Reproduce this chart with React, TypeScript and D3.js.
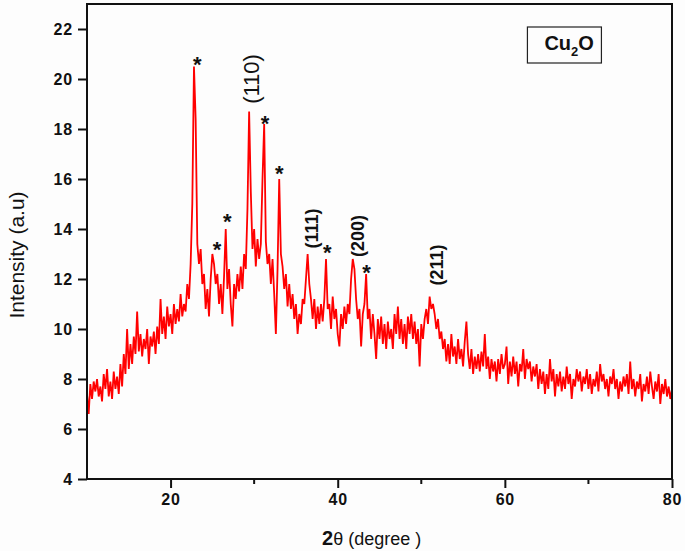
import React, { useEffect, useRef } from "react";
import * as d3 from "d3";

// XRD scan, 2θ from 10° to 80° in 0.2° steps
const THETA_START = 10;
const THETA_STEP = 0.2;
const intensity = [
  7.4, 6.6, 7.8, 7.2, 7.9,
  7.5, 8.0, 7.3, 7.7, 7.1,
  8.2, 7.6, 8.4, 7.3, 7.9,
  7.2, 8.3, 7.6, 8.1, 7.4,
  8.6, 7.7, 9.0, 8.2, 10.0,
  8.4, 9.4, 8.6, 9.7, 9.0,
  10.7, 9.1, 9.8, 8.9, 9.6,
  9.2, 10.0, 8.6, 9.7, 9.3,
  9.9, 9.0, 10.1, 9.4, 11.2,
  9.8, 10.5, 9.6, 10.9, 10.1,
  10.6, 9.8, 11.0, 10.2, 10.8,
  10.3, 11.4, 10.5, 11.0, 10.7,
  11.8, 11.2, 12.6, 15.0, 20.5,
  18.4, 13.4, 12.6, 13.2, 11.8,
  12.2, 10.8, 11.6, 10.5, 12.0,
  13.0, 12.6, 11.8, 12.2, 11.0,
  11.8, 10.6, 12.1, 14.0, 11.6,
  12.4, 11.0, 10.1, 11.8, 11.2,
  12.2, 11.5, 12.5, 11.6, 13.0,
  12.4, 14.8, 18.7, 15.5, 13.2,
  14.0, 12.5, 13.6, 12.8, 13.4,
  16.0, 18.2, 13.5, 12.6, 13.0,
  11.8, 12.8, 11.4, 9.8, 12.4,
  16.0, 13.0, 12.5, 11.6, 12.2,
  10.9, 11.8, 10.8, 11.4, 10.4,
  11.0, 9.8, 10.6, 10.2, 11.2,
  11.0, 12.0, 13.0, 11.8, 11.2,
  10.4, 11.2, 10.0, 10.9, 10.2,
  11.0, 10.3, 11.2, 12.8, 10.8,
  11.0, 10.0, 11.3, 10.4, 10.8,
  9.8, 9.3, 10.6, 10.0, 10.9,
  10.2, 11.0, 10.6, 12.0, 12.8,
  12.4, 11.2, 10.4, 10.8, 9.3,
  10.6, 11.0, 12.2, 10.4, 10.8,
  9.6, 10.6, 9.8, 8.8, 10.4,
  9.6, 10.5, 9.4, 10.2, 9.2,
  10.3, 9.6, 10.0, 9.2, 10.6,
  9.8, 10.9, 9.6, 10.4, 9.4,
  10.2, 9.2, 10.5, 9.8, 10.6,
  9.6, 10.3, 9.4, 10.0, 8.5,
  10.2, 9.6, 10.4, 10.8, 10.2,
  11.3, 10.8, 11.0, 10.6, 10.0,
  10.4, 9.6, 9.9, 9.2, 9.6,
  8.7, 9.4, 8.6, 9.8, 8.9,
  9.3, 8.6, 9.6, 8.8, 9.2,
  8.5, 9.5, 10.3, 9.0, 8.4,
  9.2, 8.2, 8.9, 8.4, 9.0,
  8.3, 9.1, 8.5, 9.8, 8.4,
  8.9, 8.0, 8.8, 8.3, 8.7,
  7.9, 8.8, 8.2, 9.0, 8.4,
  8.6, 9.3, 7.8, 8.7, 8.1,
  8.9, 8.2, 8.7, 7.7, 8.6,
  8.3, 9.2, 8.0, 8.8, 8.4,
  8.7, 7.9, 8.5, 8.1, 8.6,
  7.6, 8.4, 7.8, 8.3, 7.4,
  8.2, 7.6, 8.8, 7.9, 8.4,
  7.3, 8.2, 7.7, 8.3, 7.5,
  8.1, 7.6, 8.5, 7.8, 8.2,
  7.2, 8.0, 7.7, 8.4, 7.9,
  8.3, 7.5, 8.1, 7.8, 8.4,
  7.6, 8.2, 7.4, 8.0, 7.7,
  8.3, 7.5, 8.6, 7.9, 8.2,
  7.6, 8.0, 7.3, 8.1, 7.8,
  8.4, 7.6, 8.0, 7.2, 7.9,
  7.5, 8.1, 7.7, 8.2, 7.4,
  8.7, 7.6, 8.0, 7.3, 7.9,
  7.6, 8.2, 7.1, 7.8, 7.5,
  8.1, 7.4, 8.3, 7.7, 7.2,
  7.9, 7.5, 8.2, 7.0, 7.8,
  7.4, 8.0, 7.3, 7.7, 7.2,
  7.6,
];

const xMajorTicks = [20, 40, 60, 80];
const xMinorTicks = [30, 50, 70];
const yTicks = [4, 6, 8, 10, 12, 14, 16, 18, 20, 22];

// impurity peaks marked with "*"
const starTheta = [23.2, 25.55, 26.8, 31.3, 33.0, 38.75, 43.45];
const starLevel = [20.76, 13.36, 14.48, 18.4, 16.4, 13.24, 12.44];

// Cu2O planes
const planeLabels = ["(110)", "(111)", "(200)", "(211)"];
const planeTheta = [29.7, 36.87, 42.42, 51.91];
const planeLevel = [20.0, 14.02, 13.72, 12.56];
const planeBold = [false, true, true, true];

const FONT = "'Liberation Sans', Arial, sans-serif";

const App = () => {
  const svgRef = useRef<SVGSVGElement>(null);
  const width = 685;
  const height = 551;
  const margin = { top: 4, right: 13, bottom: 72, left: 87 };

  useEffect(() => {
    const svg = d3.select(svgRef.current);
    svg.selectAll("*").remove();

    const innerW = width - margin.left - margin.right;
    const innerH = height - margin.top - margin.bottom;
    const x = d3.scaleLinear().domain([10, 80]).range([0, innerW]);
    const y = d3.scaleLinear().domain([4, 23]).range([innerH, 0]);

    svg.append("rect").attr("width", width).attr("height", height).attr("fill", "#fdfdfd");

    const g = svg.append("g").attr("transform", `translate(${margin.left},${margin.top})`);

    const data = intensity.map((v, i) => [THETA_START + i * THETA_STEP, v] as [number, number]);
    const line = d3
      .line<[number, number]>()
      .x((d) => x(d[0]))
      .y((d) => y(d[1]));

    g.append("path")
      .datum(data)
      .attr("fill", "none")
      .attr("stroke", "#ff0000")
      .attr("stroke-width", 1.8)
      .attr("stroke-linejoin", "miter")
      .attr("d", line);

    // frame
    g.append("rect")
      .attr("width", innerW)
      .attr("height", innerH)
      .attr("fill", "none")
      .attr("stroke", "#111")
      .attr("stroke-width", 2);

    // x axis
    const xAxis = g
      .append("g")
      .attr("transform", `translate(0,${innerH})`)
      .call(d3.axisBottom(x).tickValues(xMajorTicks).tickSize(9).tickSizeOuter(0).tickPadding(6));
    xAxis.select(".domain").remove();
    xAxis.selectAll("line").attr("stroke", "#111").attr("stroke-width", 2);
    xAxis
      .selectAll("text")
      .attr("fill", "#111")
      .style("font-family", FONT)
      .style("font-size", "16px")
      .style("letter-spacing", "0.8px")
      .style("font-weight", "bold");
    g.append("g")
      .attr("transform", `translate(0,${innerH})`)
      .selectAll("line")
      .data(xMinorTicks)
      .join("line")
      .attr("x1", (d) => x(d))
      .attr("x2", (d) => x(d))
      .attr("y1", 0)
      .attr("y2", 5)
      .attr("stroke", "#111")
      .attr("stroke-width", 2);

    // y axis
    const yAxis = g
      .append("g")
      .call(d3.axisLeft(y).tickValues(yTicks).tickSize(9).tickSizeOuter(0).tickPadding(5));
    yAxis.select(".domain").remove();
    yAxis.selectAll("line").attr("stroke", "#111").attr("stroke-width", 2);
    yAxis
      .selectAll("text")
      .attr("fill", "#111")
      .style("font-family", FONT)
      .style("font-size", "16px")
      .style("letter-spacing", "0.8px")
      .style("font-weight", "bold");

    // peak markers
    g.selectAll("text.star")
      .data(starTheta)
      .join("text")
      .attr("class", "star")
      .attr("x", (d) => x(d))
      .attr("y", (d, i) => y(starLevel[i]) + 12)
      .attr("text-anchor", "middle")
      .style("font-family", FONT)
      .style("font-size", "22px")
      .style("font-weight", "bold")
      .attr("fill", "#111")
      .text("*");

    g.selectAll("text.plane")
      .data(planeLabels)
      .join("text")
      .attr("class", "plane")
      .attr(
        "transform",
        (d, i) => `translate(${x(planeTheta[i])},${y(planeLevel[i])}) rotate(-90)`
      )
      .attr("text-anchor", "middle")
      .attr("dominant-baseline", "central")
      .style("font-family", FONT)
      .style("font-size", (d, i) => (planeBold[i] ? "18px" : "22px"))
      .style("font-weight", (d, i) => (planeBold[i] ? "bold" : "normal"))
      .attr("fill", "#111")
      .text((d) => d);

    // sample box
    const box = g.append("g").attr("transform", `translate(${x(62.7)},${y(22.08)})`);
    box
      .append("rect")
      .attr("width", 74)
      .attr("height", 36)
      .attr("fill", "none")
      .attr("stroke", "#222")
      .attr("stroke-width", 1.2);
    const label = box
      .append("text")
      .attr("x", 17)
      .attr("y", 23)
      .style("font-family", FONT)
      .style("font-size", "20px")
      .style("font-weight", "bold")
      .attr("fill", "#111");
    label.append("tspan").text("Cu");
    label.append("tspan").attr("dy", 6).style("font-size", "13px").text("2");
    label.append("tspan").attr("dy", -6).text("O");

    // axis titles
    svg
      .append("text")
      .attr("transform", `translate(16,255) rotate(-90)`)
      .attr("text-anchor", "middle")
      .attr("dominant-baseline", "central")
      .style("font-family", FONT)
      .style("font-size", "21px")
      .attr("fill", "#111")
      .text("Intensity (a.u)");

    const xt = svg
      .append("text")
      .attr("x", 322)
      .attr("y", 545)
      .style("font-family", FONT)
      .attr("fill", "#111");
    xt.append("tspan").style("font-size", "20px").style("font-weight", "bold").text("2");
    xt.append("tspan").style("font-size", "18px").text("θ (degree )");
  }, []);

  return (
    <svg
      ref={svgRef}
      width={width}
      height={height}
      style={{ position: "absolute", left: 0, top: 0 }}
    ></svg>
  );
};

export default App;
